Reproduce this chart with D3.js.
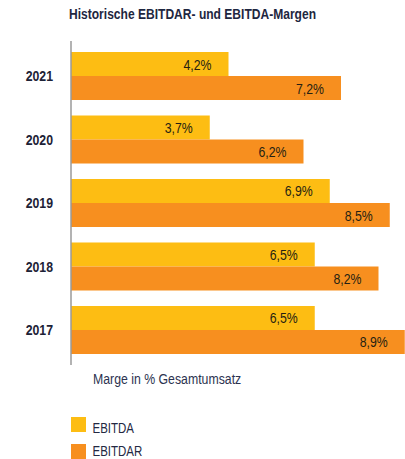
<!DOCTYPE html>
<html>
<head>
<meta charset="utf-8">
<script src="https://cdn.jsdelivr.net/npm/d3@7"></script>
<style>
  html, body { margin: 0; padding: 0; background: #fff; }
  svg { display: block; font-family: "Liberation Sans", Arial, sans-serif; }
</style>
</head>
<body>
<script>
// Margins per year, in % of total revenue
const years = ["2021", "2020", "2019", "2018", "2017"];
const seriesNames = ["EBITDA", "EBITDAR"];
const ebitda = [4.2, 3.7, 6.9, 6.5, 6.5];
const ebitdar = [7.2, 6.2, 8.5, 8.2, 8.9];
const seriesColors = ["#fdbd13", "#f78f1f"];

const W = 405, H = 459;
const NARROW = 0.82; // horizontal squeeze for a condensed type look

const svg = d3.select("body").append("svg").attr("width", W).attr("height", H);

// Place a condensed text with its anchor at (px, py)
function narrowText(sel, px, py) {
  return sel.attr("x", 0).attr("y", 0)
    .attr("transform", `translate(${px},${py}) scale(${NARROW},1)`);
}

const rows = years.map((y, i) => ({ year: y, values: [ebitda[i], ebitdar[i]] }));

const x = d3.scaleLinear().domain([0, 10]).range([71, 446]);
const y = d3.scaleBand().domain(years).range([52, 354]).paddingInner(0.244).paddingOuter(0);
const ySub = d3.scaleBand().domain(seriesNames).range([0, y.bandwidth()]).padding(0);
const fmt = v => d3.format(".1f")(v).replace(".", ",") + "%";

// Title
narrowText(svg.append("text"), 69, 18.5)
  .attr("font-size", 14.7).attr("font-weight", "bold")
  .attr("fill", "#1e2640")
  .text("Historische EBITDAR- und EBITDA-Margen");

// Bars and value labels
const groups = svg.selectAll("g.year").data(rows).join("g")
  .attr("class", "year")
  .attr("transform", d => `translate(0,${y(d.year)})`);

groups.selectAll("rect").data(d => d.values.map((v, j) => ({ v, s: seriesNames[j], j })))
  .join("rect")
  .attr("x", x(0))
  .attr("y", d => ySub(d.s))
  .attr("width", d => x(d.v) - x(0))
  .attr("height", ySub.bandwidth())
  .attr("fill", d => seriesColors[d.j]);

groups.selectAll("text.val").data(d => d.values.map((v, j) => ({ v, s: seriesNames[j] })))
  .join("text")
  .attr("class", "val")
  .attr("transform", d => `translate(${x(d.v) - 17},${ySub(d.s) + ySub.bandwidth() / 2 + 5.5}) scale(${NARROW},1)`)
  .attr("text-anchor", "end")
  .attr("font-size", 15)
  .attr("fill", "#261f12")
  .text(d => fmt(d.v));

// Category axis
const yAxis = svg.append("g")
  .attr("transform", `translate(${x(0)},0)`)
  .call(d3.axisLeft(y).tickSize(0).tickPadding(18));
yAxis.select(".domain").remove();
yAxis.selectAll("text")
  .attr("x", -18 / NARROW)
  .attr("transform", `scale(${NARROW},1)`)
  .attr("font-size", 15).attr("font-weight", "bold")
  .attr("font-family", "\"Liberation Sans\", Arial, sans-serif")
  .attr("fill", "#1d2236")
  .attr("dy", "0.36em");

svg.append("line")
  .attr("x1", x(0)).attr("x2", x(0))
  .attr("y1", 41).attr("y2", 365)
  .attr("stroke", "#9a9a9a").attr("stroke-width", 1.5);

// Value axis title
narrowText(svg.append("text"), 93, 383.5)
  .attr("font-size", 15)
  .attr("fill", "#2c3350")
  .text("Marge in % Gesamtumsatz");

// Legend
const legendBoxes = [417, 444];
const legendBaselines = [433.3, 455.8];
const li = svg.append("g").selectAll("g").data(seriesNames).join("g");
li.append("rect")
  .attr("x", 71).attr("y", (d, i) => legendBoxes[i])
  .attr("width", 15).attr("height", 15)
  .attr("fill", (d, i) => seriesColors[i]);
li.append("text")
  .each(function (d, i) { narrowText(d3.select(this), 92.5, legendBaselines[i]); })
  .attr("font-size", 14)
  .attr("fill", "#232842")
  .text(d => d);
</script>
</body>
</html>
